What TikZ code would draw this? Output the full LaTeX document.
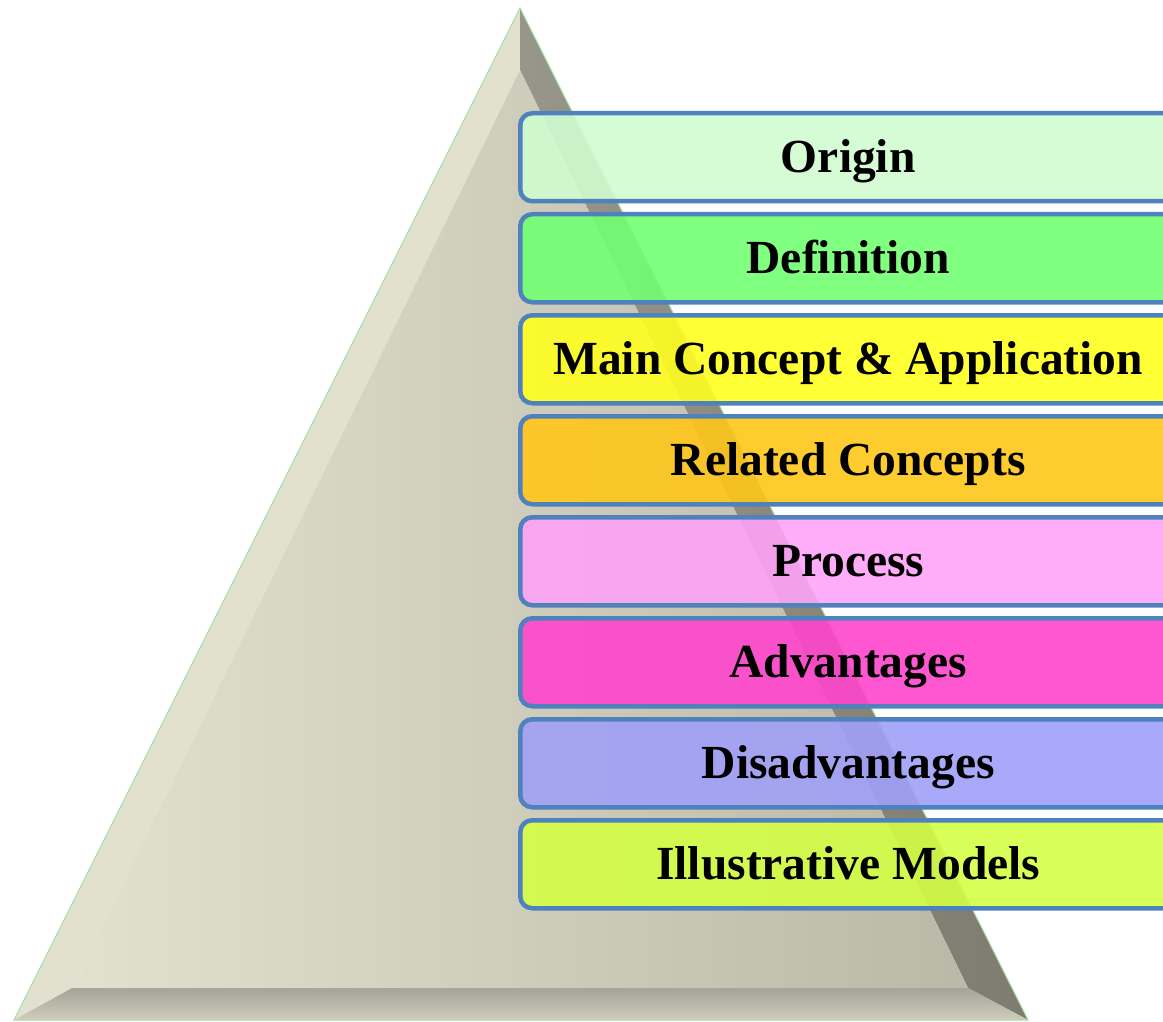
\documentclass[tikz,border=0pt]{standalone}
\usepackage{fontspec}
\setmainfont{Liberation Serif}
\usetikzlibrary{positioning}

\definecolor{edgeblue}{HTML}{4F81BD}
\definecolor{origincol}{HTML}{D0FCD0}
\definecolor{defcol}{HTML}{73FF73}
\definecolor{maincol}{HTML}{FFFF20}
\definecolor{relcol}{HTML}{FFC61A}
\definecolor{proccol}{HTML}{FFA3F8}
\definecolor{advcol}{HTML}{FF45CC}
\definecolor{disadvcol}{HTML}{A0A0F8}
\definecolor{illcol}{HTML}{D4FF45}
\definecolor{stonelight}{HTML}{E2E0CE}
\definecolor{stonemid}{HTML}{CFCDB9}
\definecolor{stonedark}{HTML}{7E7C6E}
\definecolor{rimgreen}{HTML}{A8DCA8}

\tikzset{
  layer/.style={draw=edgeblue, line width=4.5pt, rounded corners=12pt,
    minimum width=656pt, minimum height=88pt, fill opacity=0.9,
    text opacity=1, text height=31pt, text depth=0pt,
    font=\fontsize{47.5}{56}\selectfont\bfseries}
}

\begin{document}
\begin{tikzpicture}[x=1pt,y=-1pt, node distance=8.5pt]
    \useasboundingbox (0,0) rectangle (1163,1022);
    \clip (0,0) rectangle (1163,1022);

    % Pyramid, outer corners and bevel corners
    \coordinate (top) at (520,8);
    \coordinate (bl) at (14,1020);
    \coordinate (br) at (1028,1020);
    \coordinate (itop) at (520,70);
    \coordinate (ibl) at (72,988);
    \coordinate (ibr) at (968,988);

    \fill [stonelight] (top) -- (bl) -- (ibl) -- (itop) -- cycle;
    \shade [left color=stonedark!80, right color=stonedark] (top) -- (itop) -- (ibr) -- (br) -- cycle;
    \shade [top color=stonedark!70, bottom color=stonemid] (bl) -- (ibl) -- (ibr) -- (br) -- cycle;
    \shade [left color=stonelight, right color=stonemid!90!black] (itop) -- (ibl) -- (ibr) -- cycle;
    \draw [rimgreen, line width=1pt] (top) -- (bl) -- (br) -- cycle;

    % Layers
    \node [layer, fill=origincol, anchor=north west] (origin) at (518,111) {Origin};
    \node [layer, fill=defcol, below=of origin] (definition) {Definition};
    \node [layer, fill=maincol, below=of definition] (mainconcept) {Main Concept \& Application};
    \node [layer, fill=relcol, below=of mainconcept] (related) {Related Concepts};
    \node [layer, fill=proccol, below=of related] (process) {Process};
    \node [layer, fill=advcol, below=of process] (advantages) {Advantages};
    \node [layer, fill=disadvcol, below=of advantages] (disadvantages) {Disadvantages};
    \node [layer, fill=illcol, below=of disadvantages] (models) {Illustrative Models};
\end{tikzpicture}
\end{document}
